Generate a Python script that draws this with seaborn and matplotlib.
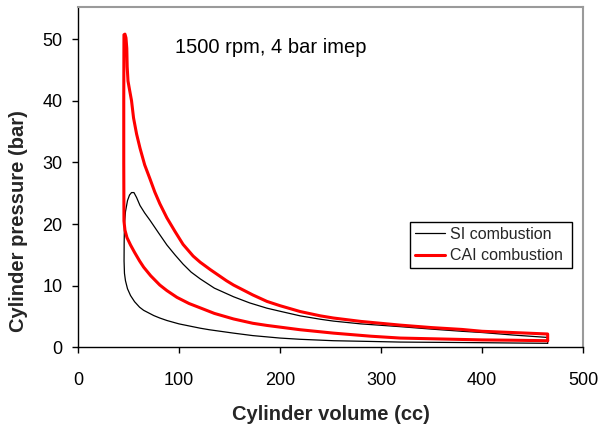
import matplotlib
matplotlib.use("Agg")
import matplotlib.pyplot as plt
import seaborn as sns
import pandas as pd

# ---- data ----
si_volume = [465, 430, 400, 360, 319, 290, 253, 220, 200, 173, 154, 130, 121, 100, 88, 81, 75, 65, 61, 56, 52, 49, 47, 46,
             45.6, 45.7, 46, 47, 49, 51, 53, 55.4, 58, 61.4, 66, 71.3, 80, 88, 96, 104, 112, 121, 135, 154, 170, 187, 200,
             220, 240, 253, 280, 319, 350, 380, 400, 430, 465, 465]
si_pressure = [0.65, 0.7, 0.75, 0.8, 0.85, 0.95, 1.07, 1.3, 1.5, 1.9, 2.3, 2.85, 3.1, 3.8, 4.35, 4.75, 5.15, 6.0, 6.5, 7.4, 8.4, 9.5, 10.8, 12.0,
               14.0, 17.0, 20.0, 22.0, 23.8, 24.7, 25.1, 25.1, 24.3, 23.0, 21.8, 20.6, 18.5, 16.6, 15.0, 13.5, 12.2, 11.1, 9.6, 8.2, 7.2, 6.35, 5.85,
               5.1, 4.55, 4.25, 3.8, 3.35, 2.95, 2.6, 2.4, 2.0, 1.6, 0.65]

cai_volume = [465, 430, 400, 360, 319, 290, 253, 220, 187, 173, 154, 135, 121, 110, 98, 88, 81, 72, 65, 61, 56, 52, 48.5, 46.5, 45.5,
              45.3, 45.3, 45.5, 46.5, 47.5, 48.3, 48.7, 49.5, 51, 53, 55, 58, 61.4, 66, 71.3, 76, 81, 88, 96, 104, 114,
              121, 131, 147, 154, 173, 187, 200, 220, 240, 253, 280, 319, 350, 380, 400, 430, 465, 465]
cai_pressure = [1.07, 1.15, 1.2, 1.35, 1.5, 1.8, 2.3, 2.85, 3.55, 3.9, 4.6, 5.5, 6.4, 7.1, 8.1, 9.2, 10.1, 11.6, 13.0, 14.0, 15.4, 16.6, 17.8, 19.0, 20.5,
                30.0, 40.0, 50.7, 50.8, 50.2, 48.5, 45.5, 43.2, 41.8, 40.0, 37.2, 34.6, 32.3, 29.6, 27.3, 25.2, 23.3, 21.0, 18.8, 16.7, 14.8,
                13.8, 12.6, 10.8, 10.1, 8.5, 7.45, 6.75, 5.8, 5.1, 4.75, 4.2, 3.6, 3.2, 2.9, 2.6, 2.4, 2.16, 1.07]

series_names = ["SI combustion", "CAI combustion"]
x_ticks = [0, 100, 200, 300, 400, 500]
y_ticks = [0, 10, 20, 30, 40, 50]
annotation = "1500 rpm, 4 bar imep"

sns.set_theme(style="white")
plt.rcParams["font.family"] = ["Liberation Sans", "DejaVu Sans"]

si_df = pd.DataFrame({"volume": si_volume, "pressure": si_pressure})
cai_df = pd.DataFrame({"volume": cai_volume, "pressure": cai_pressure})

fig = plt.figure(figsize=(6, 4.25), dpi=100)
ax = fig.add_axes([0.13, 0.1828, 0.8417, 0.8007])

sns.lineplot(data=si_df, x="volume", y="pressure", sort=False, estimator=None,
             color="black", linewidth=0.9, label=series_names[0], ax=ax)
sns.lineplot(data=cai_df, x="volume", y="pressure", sort=False, estimator=None,
             color="#ff0000", linewidth=2.2, label=series_names[1], ax=ax)

ax.set_xlim(0, 500)
ax.set_ylim(0, 55.2)
ax.set_xticks(x_ticks)
ax.set_yticks(y_ticks)
ax.tick_params(axis="both", direction="out", length=4, width=1, colors="black",
               labelsize=13, left=True, bottom=True)
ax.tick_params(axis="x", pad=13.5)
ax.tick_params(axis="y", pad=7)

for side in ["left", "bottom"]:
    ax.spines[side].set_color("black")
    ax.spines[side].set_linewidth(1.0)
for side in ["top", "right"]:
    ax.spines[side].set_color("#9a9a9a")
    ax.spines[side].set_linewidth(1.5)

ax.set_xlabel("Cylinder volume (cc)", fontsize=14.5, fontweight="bold", labelpad=12)
ax.set_ylabel("Cylinder pressure (bar)", fontsize=14.5, fontweight="bold", va="center")
ax.yaxis.set_label_coords(-0.1178, 0.371)

ax.text(96, 48.6, annotation, fontsize=14.5, ha="left", va="center", color="black")

leg = ax.legend(loc="upper left", bbox_to_anchor=(0.657, 0.0, 0.321, 0.368), mode="expand",
                borderaxespad=0, fontsize=11.5, frameon=True, fancybox=False, framealpha=1,
                handlelength=1.9, handletextpad=0.3, borderpad=0.3, labelspacing=0.4)
leg.get_frame().set_edgecolor("black")
leg.get_frame().set_linewidth(1.0)

fig.savefig("out.png", dpi=100)
